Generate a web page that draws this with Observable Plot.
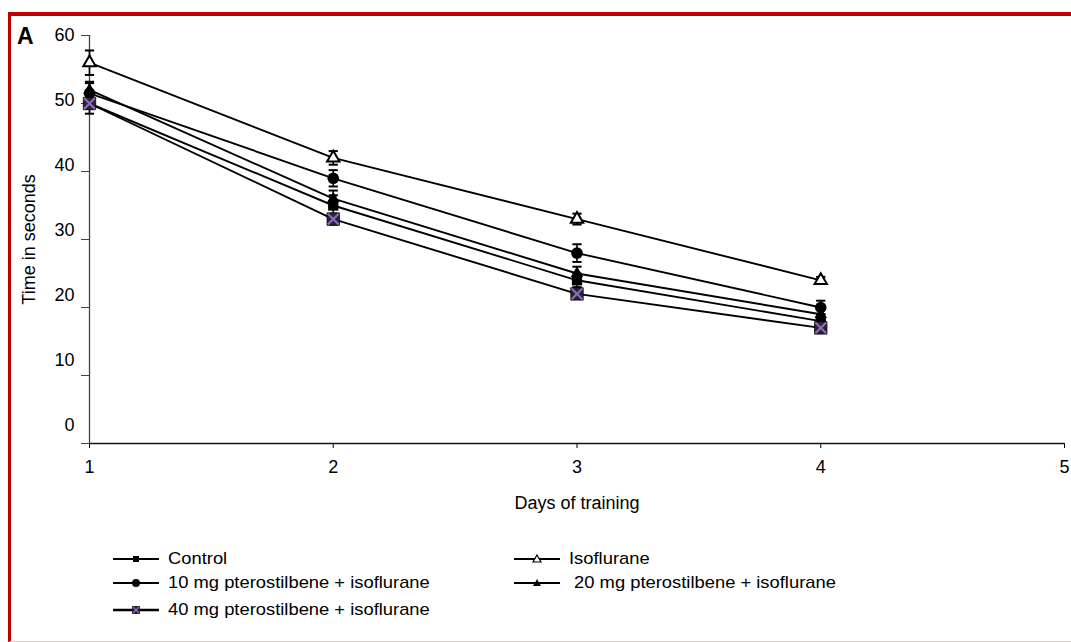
<!DOCTYPE html>
<html>
<head>
<meta charset="utf-8">
<script src="https://cdn.jsdelivr.net/npm/d3@7"></script>
<script src="https://cdn.jsdelivr.net/npm/@observablehq/plot@0.6"></script>
<style>
  body { margin: 0; background: #fff; font-family: "Liberation Sans", Arial, sans-serif; color: #000; }
  #page { position: relative; width: 1071px; height: 642px; overflow: hidden; background: #fff; }
  #chart { position: absolute; left: 0; top: 0; }
  #chart svg text { font-size: 18px; }
  #frame { position: absolute; left: 8px; top: 12px; width: 1100px; height: 630px; box-sizing: border-box;
           border-top: 4px solid #c00000; border-left: 3px solid #c00000; border-bottom: 1px solid #f2c4cc; pointer-events: none; }
  #panel { position: absolute; left: 17px; top: 23px; font-weight: bold; font-size: 23px; }
  #legend { position: absolute; left: 113px; top: 548px; }
  .row { position: relative; height: 24px; }
  .item { position: absolute; top: 0; display: flex; align-items: center; height: 22px; }
  .item svg { flex: none; }
  .item span { font-size: 17px; margin-left: 9px; transform: scaleX(1.08); transform-origin: left center; white-space: pre; }
</style>
</head>
<body>
<div id="page">
  <div id="chart"></div>
  <div id="panel">A</div>
  <div id="legend"></div>
  <div id="frame"></div>
</div>
<script>
// Days of training and mean escape latency (seconds) per group, with SEM
const days = [1, 2, 3, 4];
const seriesNames = [
  "Isoflurane",
  "10 mg pterostilbene + isoflurane",
  "20 mg pterostilbene + isoflurane",
  "Control",
  "40 mg pterostilbene + isoflurane"
];
const isoflurane = [56, 42, 33, 24];
const pt10 = [51.5, 39, 28, 20];
const pt20 = [52, 36, 25, 19];
const control = [50, 35, 24, 18];
const pt40 = [50, 33, 22, 17];

const isofluraneSem = [1.8, 1, 0.8, 0.5];
const pt10Sem = [1.5, 1.2, 1.3, 1];
const pt20Sem = [1.2, 1.2, 1, 1];
const controlSem = [1.5, 1.5, 1, 1];
const pt40Sem = [0.8, 0.8, 0.6, 0.6];

const xTicks = [1, 2, 3, 4, 5];
const yTicks = [0, 10, 20, 30, 40, 50, 60];

const valueSets = [isoflurane, pt10, pt20, control, pt40];
const semSets = [isofluraneSem, pt10Sem, pt20Sem, controlSem, pt40Sem];
const rows = seriesNames.flatMap((name, i) =>
  days.map((day, j) => ({series: name, day, value: valueSets[i][j], sem: semSets[i][j]}))
);
const of = (name) => rows.filter(d => d.series === name);

// horizontal cap used for error-bar ends
const cap = {draw(ctx, size) { const w = Math.sqrt(size); ctx.moveTo(-w, 0); ctx.lineTo(w, 0); }};

const tickLabelAxes = yTicks.map(t =>
  Plot.axisY([t], {tickSize: 0, tickPadding: 15, label: null, dy: -(60 - t) * 0.3})
);

const chart = Plot.plot({
  width: 1071,
  height: 520,
  marginLeft: 89,
  marginRight: 7,
  marginTop: 35,
  marginBottom: 77,
  style: {fontFamily: "Liberation Sans, Arial, sans-serif", fontSize: "18px", background: "transparent", color: "#000", overflow: "visible"},
  x: {domain: [1, 5]},
  y: {domain: [0, 60]},
  marks: [
    Plot.axisX(xTicks, {tickSize: 5, tickPadding: 12, tickFormat: d3.format("d"),
      label: "Days of training", labelAnchor: "center", labelArrow: "none", labelOffset: 65}),
    Plot.axisY(yTicks, {tickSize: 8, tickFormat: () => "", stroke: "#444",
      label: "Time in seconds", labelAnchor: "center", labelArrow: "none", labelOffset: 67}),
    ...tickLabelAxes,
    Plot.ruleX([1], {stroke: "#444", strokeWidth: 1.3}),
    Plot.ruleY([0], {stroke: "#111", strokeWidth: 1.3}),
    Plot.line(rows, {x: "day", y: "value", z: "series", stroke: "#000", strokeWidth: 1.9}),
    Plot.ruleX(rows.filter(d => d.series !== "40 mg pterostilbene + isoflurane"),
      {x: "day", y1: d => d.value - d.sem, y2: d => d.value + d.sem, stroke: "#000", strokeWidth: 1.6}),
    Plot.dot(rows, {x: "day", y: d => d.value + d.sem, symbol: cap, r: 2.6, stroke: "#000", strokeWidth: 2}),
    Plot.dot(rows, {x: "day", y: d => d.value - d.sem, symbol: cap, r: 2.6, stroke: "#000", strokeWidth: 2}),
    Plot.dot(of("Isoflurane"), {x: "day", y: "value", symbol: "triangle", r: 4.6, fill: "#fff", stroke: "#000", strokeWidth: 2}),
    Plot.dot(of("10 mg pterostilbene + isoflurane"), {x: "day", y: "value", symbol: "circle", r: 5.8, fill: "#000"}),
    Plot.dot(of("20 mg pterostilbene + isoflurane"), {x: "day", y: "value", symbol: "triangle", r: 4.6, fill: "#000"}),
    Plot.dot(of("Control"), {x: "day", y: "value", symbol: "square", r: 5.8, fill: "#000"}),
    Plot.dot(of("40 mg pterostilbene + isoflurane"), {x: "day", y: "value", symbol: "square", r: 7, fill: "#2b2233", stroke: "#000", strokeWidth: 0.8}),
    Plot.dot(of("40 mg pterostilbene + isoflurane"), {x: "day", y: "value", symbol: "times", r: 5, stroke: "#8a6bbd", strokeWidth: 2.2})
  ]
});
document.getElementById("chart").append(chart);

// Legend: swatch (line + marker) and label for each group
const swatches = {
  "Control": '<rect x="20" y="4" width="6" height="6" fill="#000"/>',
  "Isoflurane": '<path d="M23 3 L27 10 L19 10 Z" fill="#fff" stroke="#000" stroke-width="1.2"/>',
  "10 mg pterostilbene + isoflurane": '<circle cx="23" cy="7" r="4" fill="#000"/>',
  "20 mg pterostilbene + isoflurane": '<path d="M23 3 L27 10 L19 10 Z" fill="#000"/>',
  "40 mg pterostilbene + isoflurane": '<rect x="19" y="3" width="8" height="8" fill="#2b2233"/><path d="M20 4 L26 10 M26 4 L20 10" stroke="#8a6bbd" stroke-width="1.2"/>'
};
const legendLayout = [
  [["Control", 0], ["Isoflurane", 401]],
  [["10 mg pterostilbene + isoflurane", 0], ["20 mg pterostilbene + isoflurane", 401]],
  [["40 mg pterostilbene + isoflurane", 0]]
];
const legend = document.getElementById("legend");
legendLayout.forEach((row, i) => {
  const r = document.createElement("div");
  r.className = "row";
  if (i === 2) r.style.marginTop = "3px";
  row.forEach(([name, left]) => {
    const it = document.createElement("div");
    it.className = "item";
    it.style.left = left + "px";
    const thick = name.startsWith("40") ? 2.6 : 1.8;
    const label = name.startsWith("20") ? " " + name : name;
    it.innerHTML = `<svg width="46" height="14"><line x1="0" y1="7" x2="46" y2="7" stroke="#000" stroke-width="${thick}"/>${swatches[name]}</svg><span>${label}</span>`;
    r.append(it);
  });
  legend.append(r);
});
</script>
</body>
</html>
